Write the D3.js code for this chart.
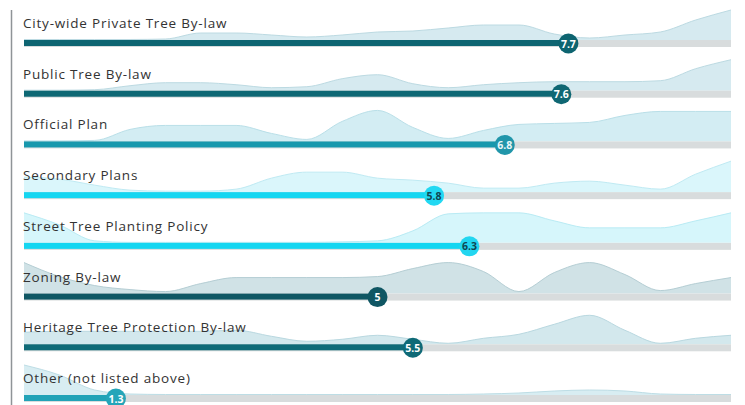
<!DOCTYPE html>
<html>
<head>
<meta charset="utf-8">
<script src="https://cdn.jsdelivr.net/npm/d3@7"></script>
<style>
  html, body { margin: 0; padding: 0; background: #fff; }
  svg { display: block; }
</style>
</head>
<body>
<div id="chart"></div>
<script>
// policy scores (0-10) with the spread of responses behind each bar
const labels = [
  "City-wide Private Tree By-law",
  "Public Tree By-law",
  "Official Plan",
  "Secondary Plans",
  "Street Tree Planting Policy",
  "Zoning By-law",
  "Heritage Tree Protection By-law",
  "Other (not listed above)"
];
const scores = [7.7, 7.6, 6.8, 5.8, 6.3, 5, 5.5, 1.3];
const scoreLabels = ["7.7", "7.6", "6.8", "5.8", "6.3", "5", "5.5", "1.3"];

// score positions where the response density was read
const densityX = [0, 0.5, 1, 1.5, 2, 2.5, 3, 3.5, 4, 4.5, 5, 5.5, 6, 6.5, 7, 7.5, 8, 8.5, 9, 9.5, 10];

const densPrivate  = [0.5, 0.5, 0.5, 0.5, 1, 7, 7, 5, 3, 5, 8, 9, 12, 15, 15, 6, 2, 5, 8, 20, 30];
const densPublic   = [0.5, 0.5, 1, 5, 8, 8, 6, 3, 4, 12, 16, 7, 3, 6, 8, 9, 9, 9, 10, 22, 31];
const densOfficial = [0.5, 0.5, 1, 12, 16, 16, 16, 8, 2, 20, 31, 14, 3, 11, 17, 18, 19, 26, 30, 30, 30];
const densSecondary = [15, 13, 7, 2, 1, 1, 3, 14, 20, 20, 14, 12, 9, 4, 4, 9, 11, 7, 3, 18, 31];
const densStreet   = [30, 18, 2, 0.5, 0.5, 0.5, 0.5, 0.5, 0.5, 1, 2, 12, 29, 30, 30, 22, 15, 15, 15, 22, 30];
const densZoning   = [31, 17, 8, 4, 2, 10, 16, 16, 16, 16, 17, 25, 31, 22, 2, 21, 31, 19, 3, 10, 16];
const densHeritage = [12, 13, 13, 13, 13, 13, 14, 8, 3, 5, 9, 5, 1, 6, 10, 20, 29, 14, 1, 6, 9];
const densOther    = [30, 20, 5, 1, 0.5, 0.5, 0.5, 0.5, 0.5, 0.5, 0.5, 0.5, 0.5, 1, 2, 4, 5, 4, 1, 0.5, 0.5];

const densities = [densPrivate, densPublic, densOfficial, densSecondary, densStreet, densZoning, densHeritage, densOther];

const barColors  = ["#0e6572", "#0e6874", "#1898ad", "#14d6f1", "#14d6f1", "#0f5764", "#0f6b78", "#22a3b7"];
const dotColors  = ["#0d6470", "#0f6773", "#2196aa", "#22d8f2", "#22d6f0", "#0f5663", "#0f6a77", "#25a5b9"];
const dotText    = ["#fff", "#fff", "#e8f6f9", "#0f4653", "#0f4653", "#fff", "#fff", "#fff"];
const areaFills  = ["#d6eaf0", "#d6eaf0", "#d3edf3", "#daf6fb", "#d6f6fb", "#d0e2e6", "#d3e8ed", "#d8edf2"];
const areaLines  = ["#bcdae2", "#bcdae2", "#b9dfe8", "#bfeaf3", "#b9ebf4", "#b5ced4", "#b9d8e0", "#bddde5"];

const W = 745, H = 405;

const svg = d3.select("#chart").append("svg")
  .attr("width", W)
  .attr("height", H);

const x = d3.scaleLinear().domain([0, 10]).range([24, 731]);
const y = d3.scalePoint().domain(d3.range(labels.length)).range([43, 398]);
const h = d3.scaleLinear().domain([0, 31]).range([0, 31]);

// left rule
svg.append("line")
  .attr("x1", 11.5).attr("x2", 11.5)
  .attr("y1", 10).attr("y2", H)
  .attr("stroke", "#8f9497")
  .attr("stroke-width", 1.5);

const rows = svg.selectAll("g.row")
  .data(labels.map(function(d, i) { return { label: d, i: i }; }))
  .enter()
  .append("g")
  .attr("class", "row");

// density ridge behind the bar
rows.each(function(d) {
  const g = d3.select(this);
  const base = y(d.i) - 3;
  const pts = densityX.map(function(v, k) { return [v, densities[d.i][k]]; });

  const area = d3.area()
    .x(function(p) { return x(p[0]); })
    .y0(base)
    .y1(function(p) { return base - h(p[1]); })
    .curve(d3.curveMonotoneX);

  const line = d3.line()
    .x(function(p) { return x(p[0]); })
    .y(function(p) { return base - h(p[1]); })
    .curve(d3.curveMonotoneX);

  g.append("path")
    .attr("d", area(pts))
    .attr("fill", areaFills[d.i]);

  g.append("path")
    .attr("d", line(pts))
    .attr("fill", "none")
    .attr("stroke", areaLines[d.i])
    .attr("stroke-width", 1);
});

// grey track
rows.append("rect")
  .attr("x", x(0))
  .attr("y", function(d) { return y(d.i) - 3; })
  .attr("width", x(10) - x(0))
  .attr("height", 7)
  .attr("fill", "#d8dcdd");

// score bar
rows.append("rect")
  .attr("x", x(0))
  .attr("y", function(d) { return y(d.i) - 3; })
  .attr("width", function(d) { return x(scores[d.i]) - x(0); })
  .attr("height", 6)
  .attr("fill", function(d) { return barColors[d.i]; });

rows.append("text")
  .attr("x", x(0) - 1)
  .attr("y", function(d) { return y(d.i) - 15; })
  .style("font-family", "'Open Sans', sans-serif")
  .style("font-size", "13.5px")
  .style("letter-spacing", "0.8px")
  .style("fill", "#333")
  .text(function(d) { return d.label; });

rows.append("circle")
  .attr("cx", function(d) { return x(scores[d.i]); })
  .attr("cy", function(d) { return y(d.i) + 0.5; })
  .attr("r", 10)
  .attr("fill", function(d) { return dotColors[d.i]; });

rows.append("text")
  .attr("x", function(d) { return x(scores[d.i]); })
  .attr("y", function(d) { return y(d.i) + 0.5; })
  .attr("text-anchor", "middle")
  .attr("dominant-baseline", "central")
  .style("font-family", "'Open Sans', sans-serif")
  .style("font-size", "10.5px")
  .style("font-weight", "700")
  .style("fill", function(d) { return dotText[d.i]; })
  .text(function(d) { return scoreLabels[d.i]; });
</script>
</body>
</html>
